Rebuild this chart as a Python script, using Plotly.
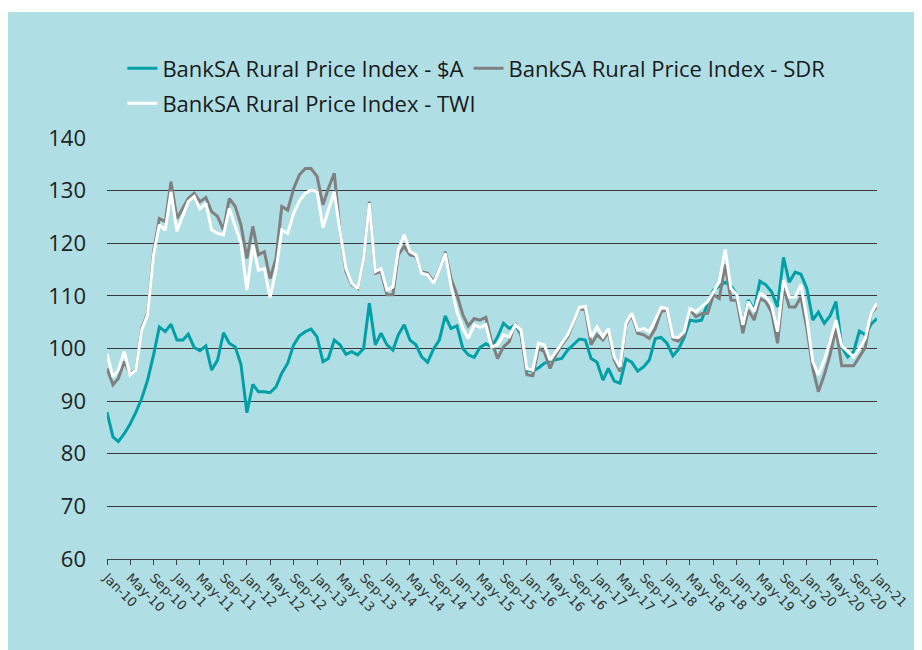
import pandas as pd
import plotly.graph_objects as go

months = pd.date_range("2010-01-01", "2021-01-01", freq="MS")

rpi_aud = [87.9, 83.2, 82.3, 83.8, 85.6, 87.9, 90.5, 94.0, 98.8, 104.1, 103.2, 104.6,
           101.6, 101.6, 102.7, 100.2, 99.6, 100.5, 95.9, 97.8, 103.0, 101.0, 100.3, 97.0,
           87.8, 93.2, 91.8, 91.8, 91.6, 92.7, 95.3, 97.2, 100.7, 102.4, 103.2, 103.7,
           102.2, 97.5, 98.1, 101.6, 100.7, 98.9, 99.4, 98.8, 100.0, 108.6, 100.7, 102.9,
           100.7, 99.7, 102.6, 104.5, 101.6, 100.7, 98.4, 97.4, 99.9, 101.6, 106.2, 103.8,
           104.3, 100.0, 98.8, 98.3, 100.2, 100.9, 100.3, 102.2, 104.8, 103.8, 104.5, 102.6,
           95.9, 95.7, 96.3, 97.2, 97.6, 97.8, 98.1, 99.7, 100.8, 101.8, 101.6, 98.1,
           97.4, 94.0, 96.2, 93.8, 93.4, 98.0, 97.4, 95.7, 96.5, 97.8, 101.9, 102.1,
           101.0, 98.6, 99.8, 102.1, 105.4, 105.2, 105.4, 108.6, 111.1, 111.9, 112.6, 111.9,
           110.2, 104.5, 109.2, 107.3, 112.8, 112.1, 110.8, 107.9, 117.3, 112.6, 114.5, 114.1,
           111.4, 105.4, 106.9, 104.8, 106.2, 108.9, 100.3, 98.4, 99.4, 103.3, 102.6, 104.6,
           105.7]

rpi_sdr = [96.2, 93.1, 94.3, 97.5, 95.3, 95.9, 103.8, 106.7, 118.4, 124.7, 124.1, 131.7,
           124.7, 126.6, 128.5, 129.5, 127.9, 128.7, 126.0, 125.1, 122.5, 128.5, 127.0, 123.5,
           117.1, 123.2, 117.8, 118.4, 113.3, 117.1, 127.0, 126.3, 130.4, 133.0, 134.2, 134.2,
           132.7, 127.3, 130.4, 133.3, 122.2, 114.6, 112.1, 111.4, 117.1, 127.9, 114.3, 114.6,
           110.2, 110.2, 117.8, 119.4, 117.8, 117.5, 114.6, 114.3, 112.7, 114.9, 118.4, 113.3,
           110.2, 106.4, 104.3, 105.7, 105.4, 105.9, 101.3, 98.1, 100.3, 101.3, 104.8, 102.9,
           95.0, 94.8, 100.0, 99.4, 96.2, 98.8, 100.7, 102.2, 104.8, 107.6, 107.3, 100.7,
           102.6, 101.6, 103.2, 97.8, 95.6, 104.5, 106.4, 102.9, 102.6, 101.9, 103.8, 107.0,
           107.3, 101.8, 101.4, 102.6, 107.5, 106.0, 106.6, 106.7, 110.2, 109.5, 115.9, 109.2,
           109.1, 102.9, 107.3, 105.4, 109.5, 108.9, 106.9, 101.0, 111.7, 107.9, 107.9, 109.8,
           103.8, 96.2, 91.8, 95.0, 98.8, 103.8, 96.7, 96.7, 96.7, 98.4, 100.2, 106.7,
           107.9]

rpi_twi = [99.0, 94.6, 95.9, 99.4, 95.0, 95.9, 103.5, 106.4, 117.8, 123.5, 122.5, 129.8,
           122.3, 125.1, 127.9, 128.9, 126.5, 127.6, 122.5, 121.9, 121.6, 126.6, 123.2, 120.0,
           111.1, 119.7, 114.9, 115.2, 109.7, 114.9, 122.5, 121.9, 125.7, 128.0, 129.5, 130.1,
           129.8, 123.0, 126.3, 129.8, 122.2, 115.2, 112.4, 111.4, 117.1, 127.6, 114.6, 115.2,
           111.1, 111.7, 118.7, 121.6, 118.4, 117.8, 114.3, 114.0, 112.4, 114.9, 118.1, 112.0,
           107.0, 103.8, 101.9, 104.5, 104.0, 104.5, 100.3, 100.7, 102.6, 102.2, 104.5, 103.5,
           96.2, 95.9, 101.0, 100.7, 97.8, 99.4, 101.0, 102.6, 105.1, 107.8, 108.0, 102.2,
           104.1, 102.2, 103.8, 98.4, 96.5, 104.8, 106.7, 103.5, 103.8, 103.2, 105.4, 107.8,
           107.6, 102.2, 102.1, 103.2, 107.6, 107.0, 107.9, 108.9, 110.8, 112.7, 118.8, 111.4,
           110.2, 104.5, 108.9, 107.0, 110.5, 109.8, 108.3, 103.2, 113.0, 109.8, 109.8, 112.1,
           105.7, 97.5, 95.0, 97.8, 101.3, 105.4, 100.5, 99.4, 98.4, 100.0, 101.9, 106.7,
           108.6]

series_names = ["BankSA Rural Price Index - $A",
                "BankSA Rural Price Index - SDR",
                "BankSA Rural Price Index - TWI"]
series_colors = ["#00a0a6", "#808080", "#ffffff"]
series_legends = ["legend", "legend", "legend2"]
y_ticks = [60, 70, 80, 90, 100, 110, 120, 130, 140]

BG = "#afdfe5"
W, H = 922, 650
L, R, T, B = 99, 53, 130, 99
pw, ph = W - L - R, H - T - B

fig = go.Figure()
for name, vals, col, lg in zip(series_names, [rpi_aud, rpi_sdr, rpi_twi],
                               series_colors, series_legends):
    fig.add_trace(go.Scatter(x=months, y=vals, mode="lines", name=name, legend=lg,
                             line=dict(color=col, width=3)))

# light-blue panel (thin white strip on top)
fig.add_shape(type="rect", xref="paper", yref="paper", layer="below",
              x0=(0 - L) / pw, x1=(W - L) / pw,
              y0=(T + ph - H) / ph, y1=(T + ph - 4) / ph,
              fillcolor=BG, line=dict(width=0))

legend_common = dict(orientation="h", xanchor="left", yanchor="top",
                     font=dict(family="Open Sans", size=22, color="#1a1a1a"),
                     bgcolor="rgba(0,0,0,0)", itemwidth=30)

fig.update_layout(
    width=W, height=H,
    margin=dict(l=L, r=R, t=T, b=B),
    paper_bgcolor="white", plot_bgcolor=BG,
    showlegend=True,
    legend=dict(x=0.02, y=1.215, **legend_common),
    legend2=dict(x=0.02, y=1.132, **legend_common),
    xaxis=dict(type="date", range=[months[0], months[-1]],
               tickformat="%b-%y", dtick="M4", tick0=months[0],
               tickangle=45, ticks="outside", ticklen=5, tickcolor="#444",
               showgrid=False, showline=True, linecolor="#444", linewidth=1,
               tickfont=dict(family="DejaVu Sans", size=13, color="#333")),
    yaxis=dict(range=[60, 140], tickvals=y_ticks, showgrid=True,
               gridcolor="#3a3a3a", gridwidth=1, zeroline=False,
               ticks="", ticklabelstandoff=20,
               tickfont=dict(family="Open Sans", size=22, color="#222")),
)

fig.write_html("out.html")
